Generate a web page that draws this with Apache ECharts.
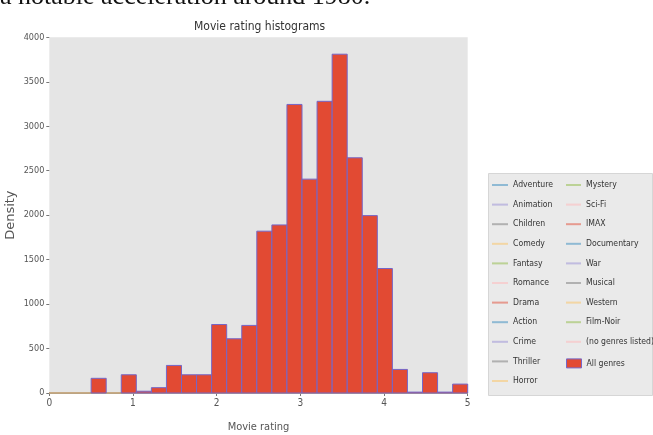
<!DOCTYPE html>
<html><head><meta charset="utf-8">
<script src="https://cdn.jsdelivr.net/npm/echarts@6/dist/echarts.min.js"></script>
<style>html,body{margin:0;padding:0;background:#fff}#c{width:653px;height:435px}</style>
</head><body><div id="c"></div>
<script>
// Histogram bin edges (25 bins from 0.5 to 5.0)
const binEdges = [0.5,0.68,0.86,1.04,1.22,1.40,1.58,1.76,1.94,2.12,2.30,2.48,2.66,2.84,3.02,3.20,3.38,3.56,3.74,3.92,4.10,4.28,4.46,4.64,4.82,5.0];
// "All genres" bar heights, one per bin
const allGenresValues = [165,0,205,20,60,310,205,205,770,610,760,1820,1890,3245,2405,3280,3810,2645,1995,1400,265,10,228,10,100];
// Genre series (drawn as flat lines at zero)
const genres = ['Adventure','Animation','Children','Comedy','Fantasy','Romance','Drama','Action','Crime','Thriller','Horror','Mystery','Sci-Fi','IMAX','Documentary','War','Musical','Western','Film-Noir','(no genres listed)'];
const genreColors = ['#348ABD','#988ED5','#777777','#FBC15E','#8EBA42','#FFB5B8','#E24A33','#348ABD','#988ED5','#777777','#FBC15E','#8EBA42','#FFB5B8','#E24A33','#348ABD','#988ED5','#777777','#FBC15E','#8EBA42','#FFB5B8'];
const genreX = [0, 5];
const genreY = [0, 0];
const xTickValues = [0,1,2,3,4,5];
const yTickValues = [0,500,1000,1500,2000,2500,3000,3500,4000];

const FONT = "'DejaVu Sans Condensed', 'DejaVu Sans', sans-serif";
const TXT = '#555555';

function hexA(h, a) {
  const r = parseInt(h.slice(1,3),16), g = parseInt(h.slice(3,5),16), b = parseInt(h.slice(5,7),16);
  return 'rgba(' + r + ',' + g + ',' + b + ',' + a + ')';
}

const barData = allGenresValues.map((v, i) => [binEdges[i], binEdges[i+1], v]);

const series = genres.map((g, i) => ({
  name: g,
  type: 'line',
  data: genreX.map((x, j) => [x, genreY[j]]),
  symbol: 'none',
  color: hexA(genreColors[i], 0.5),
  lineStyle: { width: 1.5 },
  z: 2,
  silent: true
}));

series.push({
  name: 'All genres',
  type: 'custom',
  z: 5,
  itemStyle: { color: '#E24A33', borderColor: '#7466c8', borderWidth: 1 },
  encode: { x: [0, 1], y: 2 },
  data: barData,
  renderItem: function (params, api) {
    const lo = api.value(0), hi = api.value(1), v = api.value(2);
    if (v <= 0) return null;
    const p0 = api.coord([lo, v]);
    const p1 = api.coord([hi, 0]);
    return {
      type: 'rect',
      shape: { x: p0[0], y: p0[1], width: p1[0] - p0[0], height: p1[1] - p0[1] },
      style: api.style()
    };
  }
});

const legendBase = {
  orient: 'vertical', padding: 0, icon: 'rect', itemWidth: 16, itemHeight: 2,
  itemGap: 6.6, selectedMode: false, top: 178.5,
  textStyle: { fontSize: 8.6, color: '#333', fontFamily: FONT, lineHeight: 13 }
};

const chart = echarts.init(document.getElementById('c'));
chart.setOption({
  animation: false,
  backgroundColor: '#ffffff',
  title: {
    text: 'Movie rating histograms', left: 189, top: 16,
    textStyle: { fontSize: 12, fontWeight: 'normal', color: '#333', fontFamily: FONT }
  },
  grid: { left: 49.3, right: 185.3, top: 37.3, bottom: 42, outerBoundsMode: 'none', containLabel: false,
    show: true, backgroundColor: '#e5e5e5', borderWidth: 0 },
  xAxis: {
    type: 'value', min: 0, max: 5, interval: 1,
    name: 'Movie rating', nameLocation: 'middle', nameGap: 29, nameMoveOverlap: false,
    nameTextStyle: { fontSize: 11, color: TXT, fontFamily: FONT },
    axisLine: { show: false },
    axisTick: { show: true, length: 3, lineStyle: { color: '#777' } },
    axisLabel: { fontSize: 10, color: TXT, fontFamily: FONT, margin: 5, formatter: v => String(v) },
    splitLine: { show: false }
  },
  yAxis: {
    type: 'value', min: 0, max: 4000, interval: 500,
    name: 'Density', nameLocation: 'middle', nameGap: 32, nameMoveOverlap: false,
    nameTextStyle: { fontSize: 13, color: TXT, fontFamily: "'DejaVu Sans', sans-serif" },
    axisLine: { show: false },
    axisTick: { show: true, length: 3, lineStyle: { color: '#777' } },
    axisLabel: { fontSize: 9, color: TXT, fontFamily: FONT, margin: 5, formatter: v => String(v) },
    splitLine: { show: false }
  },
  legend: [
    Object.assign({}, legendBase, { left: 492, data: genres.slice(0, 11) }),
    Object.assign({}, legendBase, { left: 566, itemWidth: 15, data: genres.slice(11) }),
    Object.assign({}, legendBase, { left: 566, top: 356.9, itemWidth: 15, itemHeight: 9,
      itemStyle: { borderColor: '#7466c8', borderWidth: 1 }, data: ['All genres'] })
  ],
  graphic: [
    { type: 'rect', left: 488, top: 173, z: -1, silent: true,
      shape: { width: 164, height: 222 },
      style: { fill: '#eaeaea', stroke: '#d6d6d6', lineWidth: 1 } },
    { type: 'text', left: 0, top: -16, silent: true,
      style: { text: 'a notable acceleration around 1980.', font: "26px 'Liberation Serif', serif", fill: '#111' } }
  ],
  series: series
});
</script>
</body></html>
